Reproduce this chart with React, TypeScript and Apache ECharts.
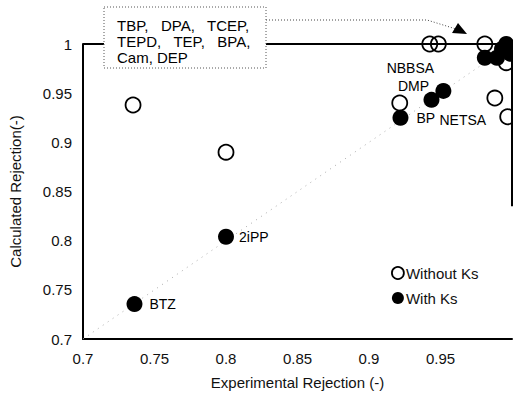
import React, { useEffect, useRef } from "react";
import * as echarts from "echarts";

const axisMin = 0.7;
const axisMax = 1.0;
const axisStep = 0.05;

// Without Ks (open circles): [experimental, calculated]
const withoutKs: number[][] = [
  [0.735, 0.938],
  [0.8, 0.89],
  [0.9215, 0.94],
  [0.9425, 1.0],
  [0.9485, 1.0],
  [0.981, 1.0],
  [0.988, 0.945],
  [0.997, 0.926],
  [0.996, 0.981],
];
const withoutKsLabels: string[] = ["", "", "", "", "", "", "NETSA", "", ""];

// With Ks (filled circles)
const withKs: number[][] = [
  [0.736, 0.7355],
  [0.8, 0.804],
  [0.922, 0.925],
  [0.9437, 0.9432],
  [0.952, 0.9523],
  [0.981, 0.986],
  [0.9895, 0.986],
  [0.993, 0.995],
  [0.996, 1.0],
  [0.999, 0.99],
];
const withKsLabels: string[] = ["BTZ", "2iPP", "BP", "DMP", "NBBSA", "", "", "", "", ""];

const boxText = "TBP,   DPA,   TCEP,\nTEPD,   TEP,   BPA,\nCam, DEP";

const FONT = "Liberation Sans, Arial, Helvetica, sans-serif";

export default function App() {
  const ref = useRef<HTMLDivElement>(null);
  useEffect(() => {
    if (!ref.current) return;
    const chart = echarts.init(ref.current, undefined, { renderer: "svg" });

    const labelFor = (name: string) => {
      switch (name) {
        case "BTZ":
          return { show: true, position: "right", distance: 7 };
        case "2iPP":
          return { show: true, position: "right", distance: 5 };
        case "BP":
          return { show: true, position: "right", distance: 8 };
        case "DMP":
          return { show: true, position: "inside", offset: [-18, -14] };
        case "NBBSA":
          return { show: true, position: "inside", offset: [-33, -23] };
        case "NETSA":
          return { show: true, position: "inside", offset: [-32, 22] };
        default:
          return { show: false };
      }
    };

    const labelBase = {
      color: "#000",
      fontSize: 14,
      fontFamily: FONT,
      formatter: (p: any) => p.name,
    };

    const mkData = (pts: number[][], names: string[]) =>
      pts.map((p, i) => ({
        name: names[i],
        value: p,
        label: { ...labelBase, ...labelFor(names[i]) },
      }));

    chart.setOption({
      animation: false,
      textStyle: { fontFamily: FONT },
      grid: { left: 83, right: 1, top: 44, bottom: 55, containLabel: false },
      xAxis: {
        type: "value",
        min: axisMin,
        max: axisMax,
        interval: axisStep,
        name: "Experimental Rejection (-)",
        nameLocation: "middle",
        nameGap: 36,
        nameTextStyle: { color: "#111", fontSize: 15, fontFamily: FONT },
        axisLine: { show: true, lineStyle: { color: "#000", width: 2 } },
        axisTick: { show: false },
        splitLine: { show: false },
        axisLabel: {
          color: "#111",
          fontSize: 15,
          fontFamily: FONT,
          margin: 12,
          showMaxLabel: false,
          formatter: (v: number) => String(Math.round(v * 100) / 100),
        },
      },
      yAxis: {
        type: "value",
        min: axisMin,
        max: axisMax,
        interval: axisStep,
        name: "Calculated Rejection(-)",
        nameLocation: "middle",
        nameGap: 60,
        nameTextStyle: { color: "#111", fontSize: 15, fontFamily: FONT },
        axisLine: { show: true, lineStyle: { color: "#000", width: 2 } },
        axisTick: { show: false },
        splitLine: { show: false },
        axisLabel: {
          color: "#111",
          fontSize: 15,
          fontFamily: FONT,
          margin: 11,
          formatter: (v: number) => String(Math.round(v * 100) / 100),
        },
      },
      legend: {
        data: [
          { name: "Without Ks", icon: "circle", itemStyle: { color: "rgba(0,0,0,0)", borderColor: "#000", borderWidth: 1.8 } },
          { name: "With Ks", icon: "circle" },
        ],
        orient: "vertical",
        left: 386,
        top: 259,
        itemWidth: 12,
        itemHeight: 12,
        itemGap: 7,
        textStyle: { color: "#111", fontSize: 15, fontFamily: FONT, lineHeight: 18, padding: [0, 0, 0, -3] },
      },
      series: [
        {
          name: "diag",
          type: "line",
          data: [
            [axisMin, axisMin],
            [axisMax, axisMax],
          ],
          symbol: "none",
          lineStyle: { color: "#aaa", width: 1, type: [1, 5] },
          silent: true,
          z: 1,
        },
        {
          name: "topline",
          type: "line",
          data: [
            [axisMin, axisMax],
            [axisMax, axisMax],
          ],
          symbol: "none",
          lineStyle: { color: "#000", width: 2 },
          silent: true,
          z: 2,
        },
        {
          name: "rightline",
          type: "line",
          data: [
            [axisMax, 0.835],
            [axisMax, 0.99],
          ],
          symbol: "none",
          lineStyle: { color: "#000", width: 2 },
          silent: true,
          z: 2,
        },
        {
          name: "Without Ks",
          type: "scatter",
          symbol: "circle",
          symbolSize: 15,
          itemStyle: { color: "rgba(0,0,0,0)", borderColor: "#000", borderWidth: 1.8, opacity: 1 },
          data: mkData(withoutKs, withoutKsLabels),
          z: 3,
        },
        {
          name: "With Ks",
          type: "scatter",
          symbol: "circle",
          symbolSize: 16,
          itemStyle: { color: "#000", opacity: 1 },
          data: mkData(withKs, withKsLabels),
          z: 4,
        },
      ],
      graphic: [
        {
          type: "polyline",
          shape: {
            points: [
              [266, 20],
              [427, 20],
              [456, 29],
            ],
          },
          style: { stroke: "#444", lineWidth: 1, lineDash: [1, 2], fill: null },
          z: 10,
        },
        {
          type: "polygon",
          shape: {
            points: [
              [452, 33],
              [458, 23],
              [467, 34],
            ],
          },
          style: { fill: "#000" },
          z: 10,
        },
        {
          type: "rect",
          shape: { x: 104, y: 7, width: 162, height: 61 },
          style: { fill: "#fff", stroke: "#555", lineWidth: 1, lineDash: [1, 2] },
          z: 10,
        },
        {
          type: "text",
          x: 117,
          y: 17,
          style: {
            text: boxText,
            fill: "#000",
            font: "15px " + FONT,
            lineHeight: 16,
            verticalAlign: "top",
          },
          z: 11,
        },
      ],
    });
    return () => chart.dispose();
  }, []);
  return <div ref={ref} style={{ position: "absolute", left: 0, top: 0, width: 513, height: 395 }} />;
}
